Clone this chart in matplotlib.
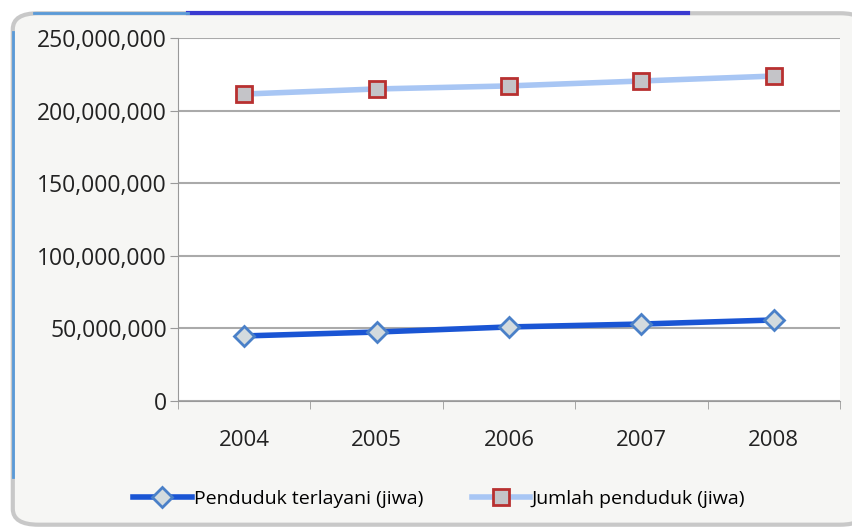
import matplotlib.pyplot as plt
from matplotlib.patches import FancyBboxPatch
from matplotlib.ticker import FuncFormatter

years = ["2004", "2005", "2006", "2007", "2008"]
terlayani = [44.8e6, 47.5e6, 51.0e6, 53.0e6, 55.8e6]
jumlah = [211.4e6, 214.9e6, 217.0e6, 220.4e6, 223.8e6]

plt.rcParams['font.family'] = ['Open Sans', 'DejaVu Sans']

fig = plt.figure(figsize=(8.53, 5.30), dpi=100)
fig.patch.set_facecolor('white')

# rounded frame of the chart area
frame = FancyBboxPatch((0.015, 0.01), 1.0, 0.965, boxstyle="round,pad=0,rounding_size=0.03",
                       transform=fig.transFigure, facecolor='#f6f6f4', edgecolor='#c8c8c8',
                       linewidth=3, zorder=-5)
fig.add_artist(frame)
fig.add_artist(plt.Line2D([0.22, 0.806], [0.975, 0.975], transform=fig.transFigure,
                          color='#3a3ad0', linewidth=3, zorder=-4))
fig.add_artist(plt.Line2D([0.04, 0.22], [0.975, 0.975], transform=fig.transFigure,
                          color='#5a9ad8', linewidth=2, zorder=-4))
fig.add_artist(plt.Line2D([0.015, 0.015], [0.1, 0.94], transform=fig.transFigure,
                          color='#5a9ad8', linewidth=2, zorder=-4))

ax = fig.add_axes([0.2087, 0.2434, 0.776, 0.6849])
ax.set_zorder(1)
ax.set_facecolor('white')
x = list(range(len(years)))

ax.plot(x, terlayani, color='#1a55d4', linewidth=4, marker='D', markersize=10,
        markerfacecolor='#d3dbde', markeredgecolor='#4a80c8', markeredgewidth=2,
        label='Penduduk terlayani (jiwa)', zorder=3)
ax.plot(x, jumlah, color='#a8c6f4', linewidth=4, marker='s', markersize=12,
        markerfacecolor='#c4c4c8', markeredgecolor='#b83030', markeredgewidth=2,
        label='Jumlah penduduk (jiwa)', zorder=3)

ax.set_ylim(0, 250e6)
ax.set_xlim(-0.5, 4.5)
ax.set_yticks([0, 50e6, 100e6, 150e6, 200e6, 250e6])
ax.yaxis.set_major_formatter(FuncFormatter(lambda v, p: f"{int(v):,}"))
ax.set_xticks(x)
ax.set_xticklabels(years)
ax.set_xticks([-0.5, 0.5, 1.5, 2.5, 3.5, 4.5], minor=True)
ax.tick_params(axis='x', which='major', length=0, pad=21, labelsize=16, colors='#222222')
ax.tick_params(axis='x', which='minor', length=6, color='#999999')
ax.tick_params(axis='y', length=6, color='#999999', labelsize=16.5, colors='#222222', pad=2)
ax.grid(axis='y', color='#aaaaaa', linewidth=1.5)
ax.set_axisbelow(True)
for s in ['top', 'right']:
    ax.spines[s].set_visible(False)
ax.spines['left'].set_color('#999999')
ax.spines['bottom'].set_color('#999999')

fig.legend(loc='center', bbox_to_anchor=(0.515, 0.058), ncol=2, frameon=False,
           fontsize=14, handlelength=3, columnspacing=2.5, handletextpad=0.1)

plt.savefig("out.png", dpi=100)
